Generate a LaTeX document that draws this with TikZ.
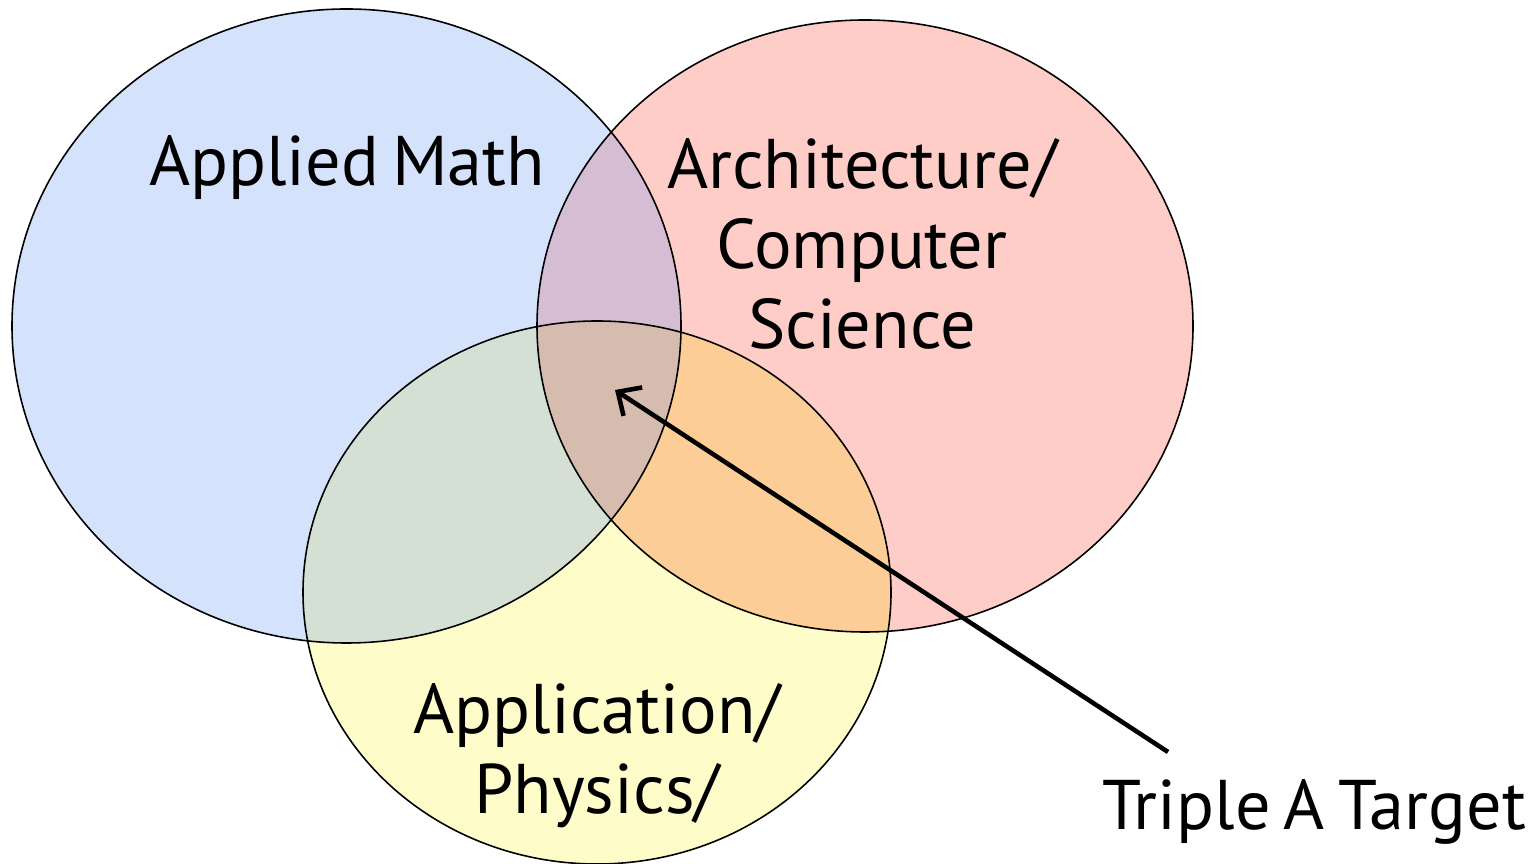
\documentclass[tikz,border=0pt]{standalone}
\usepackage{fontspec}
\setmainfont{PT Sans}[WordSpace=0.7]
\usepackage{tikz}
\usetikzlibrary{arrows.meta}
\definecolor{mathblue}{HTML}{D4E2FC}
\definecolor{archred}{HTML}{FECDC7}
\definecolor{appyellow}{HTML}{FEFCC8}
\definecolor{mathArch}{HTML}{D5BDD4}
\definecolor{mathApp}{HTML}{D5E0D4}
\definecolor{archApp}{HTML}{FDCD98}
\definecolor{tripleA}{HTML}{D5BCAF}
\tikzset{
  setline/.style={draw=black,line width=0.45pt},
  lbl/.style    ={font=\fontsize{20}{22.7}\selectfont,align=center,inner sep=0pt},
  pointer/.style={-{Straight Barb[length=1.8mm,width=3.4mm]},line width=1.3pt,draw=black}
}
\newcommand\mathset{(3.465,5.38) ellipse [x radius=3.345,y radius=3.17]}
\newcommand\archset{(8.65,5.38) ellipse [x radius=3.28,y radius=3.06]}
\newcommand\appset{(5.97,2.715) ellipse [x radius=2.94,y radius=2.715]}

\begin{document}
\begin{tikzpicture}
  \useasboundingbox (0,0) rectangle (15.34,8.64);
  % the three sets
  \fill[mathblue] \mathset;
  \fill[archred] \archset;
  \fill[appyellow] \appset;
  % overlaps
  \begin{scope} \clip \mathset; \fill[mathArch] \archset; \fill[mathApp] \appset; \end{scope}
  \begin{scope} \clip \archset; \fill[archApp] \appset; \end{scope}
  \begin{scope} \clip \mathset; \clip \archset; \fill[tripleA] \appset; \end{scope}
  \draw[setline] \mathset;
  \draw[setline] \archset;
  \draw[setline] \appset;
  % labels
  \node[lbl,anchor=base] (mathlbl) at (3.47,6.78) {Applied Math};
  \node[lbl] (archlbl) at (8.62,6.2) {Architecture/\\Computer\\Science};
  \node[lbl] (applbl) at (5.97,1.08) {Application/\\Physics/};
  \node[lbl,anchor=base] (target) at (13.14,0.34) {Triple A Target};
  \coordinate (core) at (6.15,4.74);
  \coordinate (tail) at (11.68,1.12);
  \draw[pointer] (tail) -- (core);
\end{tikzpicture}
\end{document}
